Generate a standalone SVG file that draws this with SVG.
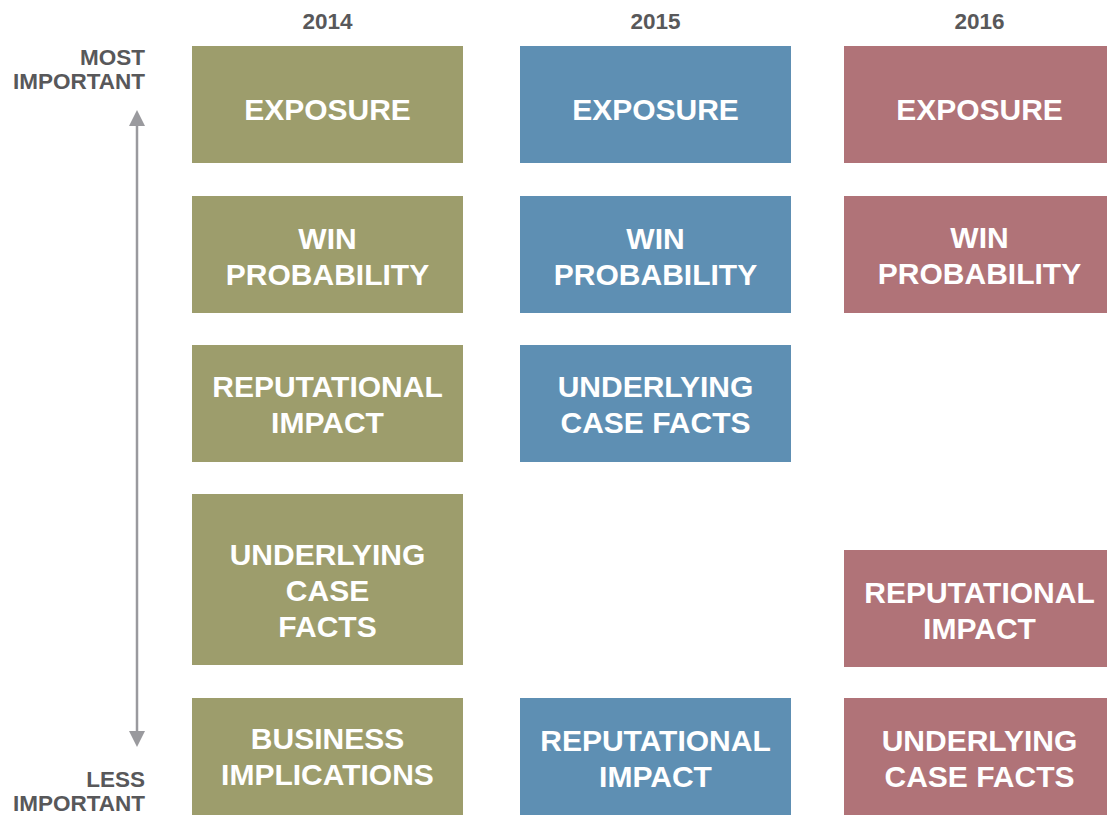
<svg xmlns="http://www.w3.org/2000/svg" width="1107" height="815" viewBox="0 0 1107 815">
<style>
.lbl{font-family:"Liberation Sans",Arial,sans-serif;font-weight:bold;fill:#58585a;font-size:22.5px}
.yr{text-anchor:middle}
.ax{text-anchor:end}
.t{font-family:"Liberation Sans",Arial,sans-serif;font-weight:bold;fill:#ffffff;font-size:30px;text-anchor:middle}
.g{fill:#9d9d6c}
.b{fill:#5e8fb3}
.r{fill:#b07378}
</style>
<defs>
<marker id="ah" viewBox="0 0 18 16" refX="0" refY="8" markerWidth="18" markerHeight="16" markerUnits="userSpaceOnUse" orient="auto-start-reverse">
<path d="M0,0 L16,8 L0,16 Z" fill="#9a9a9e"/>
</marker>
</defs>
<rect width="1107" height="815" fill="#ffffff"/>
<g id="labels">
<text class="lbl yr" x="327.5" y="29">2014</text>
<text class="lbl yr" x="655.5" y="29">2015</text>
<text class="lbl yr" x="979.5" y="29">2016</text>
<text class="lbl ax" x="145" y="65">MOST</text>
<text class="lbl ax" x="145" y="89">IMPORTANT</text>
<text class="lbl ax" x="145" y="787">LESS</text>
<text class="lbl ax" x="145" y="811">IMPORTANT</text>
</g>
<g id="connectors">
<line x1="137" y1="126" x2="137" y2="731" stroke="#9a9a9e" stroke-width="2.5" marker-start="url(#ah)" marker-end="url(#ah)"/>
</g>
<g id="n2014-1"><rect class="g" x="192" y="46" width="271" height="117"/><text class="t" x="327.5" y="120">EXPOSURE</text></g>
<g id="n2014-2"><rect class="g" x="192" y="196" width="271" height="117"/><text class="t" x="327.5" y="249">WIN</text><text class="t" x="327.5" y="285">PROBABILITY</text></g>
<g id="n2014-3"><rect class="g" x="192" y="345" width="271" height="117"/><text class="t" x="327.5" y="397">REPUTATIONAL</text><text class="t" x="327.5" y="433">IMPACT</text></g>
<g id="n2014-4"><rect class="g" x="192" y="494" width="271" height="171"/><text class="t" x="327.5" y="565">UNDERLYING</text><text class="t" x="327.5" y="601">CASE</text><text class="t" x="327.5" y="637">FACTS</text></g>
<g id="n2014-5"><rect class="g" x="192" y="698" width="271" height="117"/><text class="t" x="327.5" y="749">BUSINESS</text><text class="t" x="327.5" y="785">IMPLICATIONS</text></g>
<g id="n2015-1"><rect class="b" x="520" y="46" width="271" height="117"/><text class="t" x="655.5" y="120">EXPOSURE</text></g>
<g id="n2015-2"><rect class="b" x="520" y="196" width="271" height="117"/><text class="t" x="655.5" y="249">WIN</text><text class="t" x="655.5" y="285">PROBABILITY</text></g>
<g id="n2015-3"><rect class="b" x="520" y="345" width="271" height="117"/><text class="t" x="655.5" y="397">UNDERLYING</text><text class="t" x="655.5" y="433">CASE FACTS</text></g>
<g id="n2015-4"><rect class="b" x="520" y="698" width="271" height="117"/><text class="t" x="655.5" y="751">REPUTATIONAL</text><text class="t" x="655.5" y="787">IMPACT</text></g>
<g id="n2016-1"><rect class="r" x="844" y="46" width="271" height="117"/><text class="t" x="979.5" y="120">EXPOSURE</text></g>
<g id="n2016-2"><rect class="r" x="844" y="196" width="271" height="117"/><text class="t" x="979.5" y="248">WIN</text><text class="t" x="979.5" y="284">PROBABILITY</text></g>
<g id="n2016-3"><rect class="r" x="844" y="550" width="271" height="117"/><text class="t" x="979.5" y="603">REPUTATIONAL</text><text class="t" x="979.5" y="639">IMPACT</text></g>
<g id="n2016-4"><rect class="r" x="844" y="698" width="271" height="117"/><text class="t" x="979.5" y="751">UNDERLYING</text><text class="t" x="979.5" y="787">CASE FACTS</text></g>
</svg>
